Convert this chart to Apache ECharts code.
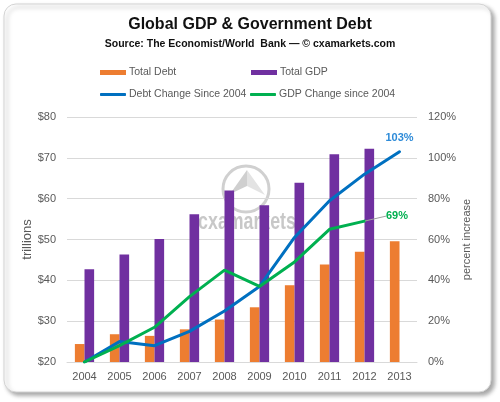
<!DOCTYPE html>
<html>
<head>
<meta charset="utf-8">
<script src="https://cdn.jsdelivr.net/npm/echarts@6/dist/echarts.min.js"></script>
<style>
html,body{margin:0;padding:0;background:#fff;}
#main{width:500px;height:402px;}
</style>
</head>
<body>
<div id="main"></div>
<script>
var years = ['2004','2005','2006','2007','2008','2009','2010','2011','2012','2013'];
var totalDebt = [24.4, 26.8, 26.4, 28.0, 30.4, 33.4, 38.8, 43.9, 47.0, 49.6];
var totalGdp = [42.7, 46.3, 50.1, 56.2, 62.0, 58.4, 63.9, 70.9, 72.2, null];
var debtChange = [0, 10, 8, 15, 25, 37, 61, 79, 92, 103];
var gdpChange = [0, 8, 17, 32, 45, 37, 49, 65, 69, null];
var debtLabelIndex = 9;
var gdpLabelIndex = 8;

var FONT = 'Liberation Sans, Arial, sans-serif';
var TXT = '#595959';

function withLabel(arr, idx, labelOpt) {
  return arr.map(function (v, i) {
    if (i === idx) return { value: v, label: labelOpt };
    return v;
  });
}

function legendAt(left, top, name, h, icon) {
  return {
    left: left, top: top, padding: 0, itemWidth: 26, itemHeight: h, icon: icon,
    textStyle: { color: TXT, fontSize: 10.5, fontFamily: FONT, padding: [0, 0, 0, -2] },
    data: [name]
  };
}

var chart = echarts.init(document.getElementById('main'), null, {renderer: 'canvas'});

var option = {
  backgroundColor: '#ffffff',
  animation: false,
  textStyle: { fontFamily: FONT },
  title: {
    text: 'Global GDP & Government Debt',
    subtext: 'Source: The Economist/World  Bank \u2014 \u00a9 cxamarkets.com',
    left: 'center',
    top: 12,
    itemGap: 6,
    textStyle: { fontFamily: FONT, fontSize: 16, fontWeight: 'bold', color: '#111' },
    subtextStyle: { fontFamily: FONT, fontSize: 10.5, fontWeight: 'bold', color: '#111' }
  },
  legend: [
    legendAt(100, 67, 'Total Debt', 5, 'rect'),
    legendAt(251, 67, 'Total GDP', 5, 'rect'),
    legendAt(100, 89, 'Debt Change Since 2004', 3, 'roundRect'),
    legendAt(250, 89, 'GDP Change since 2004', 3, 'roundRect')
  ],
  grid: { left: 67, right: 83, top: 117, bottom: 40, containLabel: false },
  xAxis: {
    type: 'category',
    data: years,
    axisTick: { show: false },
    axisLine: { lineStyle: { color: '#d9d9d9' } },
    axisLabel: { color: TXT, fontSize: 11, margin: 9, fontFamily: FONT }
  },
  yAxis: [
    {
      type: 'value', min: 20, max: 80, interval: 10,
      name: 'trillions', nameLocation: 'middle', nameGap: 33, nameRotate: 90, nameMoveOverlap: false,
      nameTextStyle: { color: TXT, fontSize: 13, fontFamily: FONT },
      axisLine: { show: false }, axisTick: { show: false },
      axisLabel: { color: TXT, fontSize: 11, margin: 11, fontFamily: FONT, formatter: function (v) { return '$' + v; } },
      splitLine: { lineStyle: { color: '#d9d9d9', width: 1 } }
    },
    {
      type: 'value', min: 0, max: 120, interval: 20,
      name: 'percent increase', nameLocation: 'middle', nameGap: 44, nameRotate: 90, nameMoveOverlap: false,
      nameTextStyle: { color: TXT, fontSize: 11, fontFamily: FONT },
      axisLine: { show: false }, axisTick: { show: false },
      axisLabel: { color: TXT, fontSize: 11, margin: 11, fontFamily: FONT, formatter: '{value}%' },
      splitLine: { show: false }
    }
  ],
  graphic: [
    { type: 'rect', z: -20, shape: { x: 4, y: 4, width: 487, height: 388, r: 12 },
      style: { fill: '#fff', stroke: '#d4d4d4', lineWidth: 1, shadowBlur: 4, shadowOffsetX: 3, shadowOffsetY: 3, shadowColor: 'rgba(0,0,0,0.35)' } },
    { type: 'circle', z: -5, shape: { cx: 246, cy: 189, r: 23 },
      style: { fill: 'none', stroke: '#d0d0d0', lineWidth: 3 } },
    { type: 'polygon', z: -5, shape: { points: [[247,170],[230,194],[247,186]] },
      style: { fill: '#cfcfcf' } },
    { type: 'polygon', z: -5, shape: { points: [[247,170],[265,195],[247,186]] },
      style: { fill: '#e3e3e3' } },
    { type: 'text', z: -5, x: 247, y: 222, scaleX: 0.74, scaleY: 1,
      style: { x: 0, y: 0, text: 'cxamarkets', textAlign: 'center', textVerticalAlign: 'middle',
      font: 'bold 24px "Liberation Sans", Arial, sans-serif', fill: '#c8c8c8' } }
  ],
  series: [
    {
      name: 'Total Debt', type: 'bar', yAxisIndex: 0, data: totalDebt,
      barGap: '0%', barCategoryGap: '45%',
      itemStyle: { color: '#ED7D31' }
    },
    {
      name: 'Total GDP', type: 'bar', yAxisIndex: 0, data: totalGdp,
      barGap: '0%', barCategoryGap: '45%',
      itemStyle: { color: '#7030A0' }
    },
    {
      name: 'Debt Change Since 2004', type: 'line', yAxisIndex: 1,
      data: withLabel(debtChange, debtLabelIndex, {
        show: true, position: 'top', distance: 8, formatter: '{c}%',
        color: '#2E8BD8', fontWeight: 'bold', fontSize: 11, fontFamily: FONT
      }),
      symbol: 'circle', symbolSize: 1, showSymbol: true,
      itemStyle: { color: '#0070C0' },
      lineStyle: { color: '#0070C0', width: 3, cap: 'round' },
      label: { show: false },
      z: 3
    },
    {
      name: 'GDP Change since 2004', type: 'line', yAxisIndex: 1,
      data: withLabel(gdpChange, gdpLabelIndex, {
        show: true, position: 'right', distance: 5, formatter: '{c}%',
        color: '#00B050', fontWeight: 'bold', fontSize: 11, fontFamily: FONT
      }),
      symbol: 'circle', symbolSize: 1, showSymbol: true,
      itemStyle: { color: '#00B050' },
      lineStyle: { color: '#00B050', width: 3, cap: 'round' },
      label: { show: false },
      labelLine: { show: true, lineStyle: { color: '#a0a0a0', width: 1 } },
      labelLayout: function (p) {
        if (p.dataIndex === gdpLabelIndex) return { dx: 16, dy: -5 };
        return {};
      },
      z: 4
    }
  ]
};
chart.setOption(option);
</script>
</body>
</html>
